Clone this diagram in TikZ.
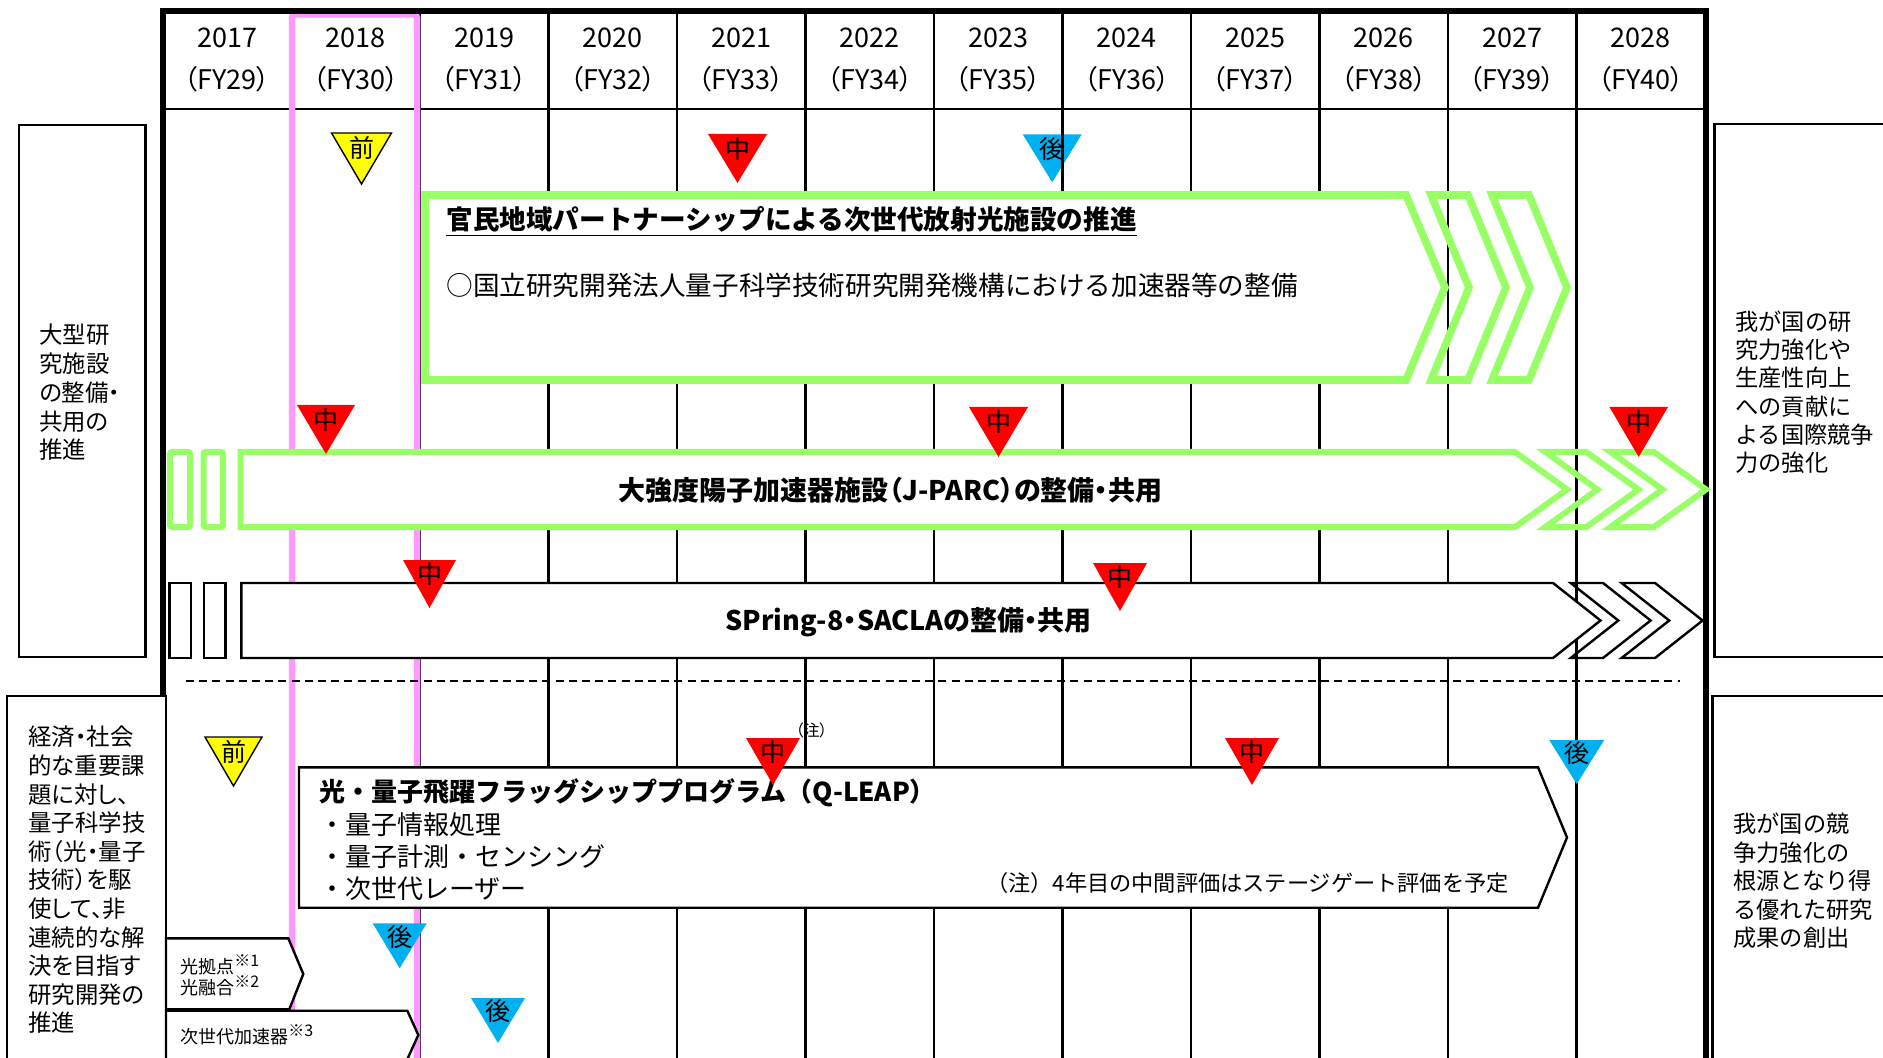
\documentclass[tikz,border=0pt]{standalone}
\usepackage{fontspec}
\setmainfont{Noto Sans CJK JP}
\newfontfamily\pj{Noto Sans CJK JP}[RawFeature=+palt]
\definecolor{mkred}{HTML}{FF0000}
\definecolor{mkblue}{HTML}{00B0F0}
\definecolor{mkyel}{HTML}{FFFF00}
\definecolor{lgreen}{HTML}{99FF66}
\definecolor{lpink}{HTML}{FF99FF}
\newcommand\fsz[2]{\fontsize{#1pt}{#2pt}\selectfont}
\newcommand\supx[1]{\raisebox{0.4em}{\fsz{8}{8}#1}}
\newcommand\mkr[7]{%
  \path[#6] (#2-#4/2,#3) -- (#2+#4/2,#3) -- (#2,#3+#5) -- cycle;
  \node[mtxt] (#1) at (#2,#3+0.3*#5) {#7};}
\begin{document}
\begin{tikzpicture}[x=0.5pt,y=-0.5pt,
  gridline/.style={line width=1.1pt,black},
  framel/.style={line width=2.75pt,black},
  pinkl/.style={line width=3.25pt,lpink,rounded corners=1.5pt},
  boxl/.style={line width=1.2pt,black},
  greenA/.style={line width=3.8pt,lgreen},
  greenB/.style={line width=3pt,lgreen},
  blkbox/.style={line width=1.2pt,black},
  dashl/.style={line width=1pt,black,dash pattern=on 4pt off 2.6pt},
  hdr/.style={inner sep=0pt,font=\fsz{13.5}{16}},
  sidetxt/.style={inner sep=0pt,anchor=west,align=left},
  txt/.style={inner sep=0pt,anchor=west},
  mtxt/.style={inner sep=0pt,font=\fsz{12.5}{13}},
  mred/.style={fill=mkred},
  mblue/.style={fill=mkblue},
  myel/.style={fill=mkyel,draw=black,line width=0.7pt},
]
\useasboundingbox (0,0) rectangle (1883,1058);
\fill[white] (0,0) rectangle (1883,1058);

% grid
\foreach \i in {1,...,11} \draw[gridline] (163+128.5*\i,11) -- (163+128.5*\i,1070);
\draw[gridline,line width=1.2pt] (163,109) -- (1706,109);

% header
\foreach \yr [count=\k from 0] in {2017,...,2028} {
  \pgfmathtruncatemacro{\fy}{\yr-1988}
  \node[hdr] (yr\yr) at (227.25+128.5*\k,38) {\yr};
  \node[hdr] (fy\yr) at (227.25+128.5*\k,79) {\pj（FY\fy）};
}

% pink highlight of 2018
\draw[pinkl] (292,14.5) rectangle (417,1075);

% frame
\draw[framel] (163,696) -- (163,11) -- (1706,11) -- (1706,1075);

% side boxes
\draw[boxl,fill=white] (19,125) rectangle (145.5,657);
\node[sidetxt,font=\pj\fsz{11.7}{14.4}] (lt1) at (39,392.5) {大型研\\究施設\\の整備・\\共用の\\推進};
\draw[boxl,fill=white] (7,696) rectangle (166,1075);
\node[sidetxt,font=\pj\fsz{11.7}{14.3}] (lt2) at (28,880) {経済・社会\\的な重要課\\題に対し、\\量子科学技\\術（光・量子\\技術）を駆\\使して、非\\連続的な解\\決を目指す\\研究開発の\\推進};
\draw[boxl,fill=white] (1714.5,124) rectangle (1895,657);
\node[sidetxt,font=\fsz{11.6}{14.15}] (rt1) at (1735,392.3) {我が国の研\\究力強化や\\生産性向上\\への貢献に\\よる国際競争\\力の強化};
\draw[boxl,fill=white] (1712.5,696) rectangle (1895,1075);
\node[sidetxt,font=\fsz{11.6}{14.25}] (rt2) at (1733,881) {我が国の競\\争力強化の\\根源となり得\\る優れた研究\\成果の創出};

% box A : next-generation synchrotron
\draw[greenA,fill=white] (425,195) -- (1406,195) -- (1445,287.5) -- (1406,380) -- (425,380) -- cycle;
\draw[greenA] (1431,195) -- (1468,195) -- (1506,287.5) -- (1468,380) -- (1431,380) -- (1469,287.5) -- cycle;
\draw[greenA] (1492,195) -- (1529,195) -- (1567,287.5) -- (1529,380) -- (1492,380) -- (1530,287.5) -- cycle;
\node[txt,font=\bfseries\fsz{13.3}{16}] (ta1) at (446,221.7) {\underline{官民地域パートナーシップによる次世代放射光施設の推進}};
\node[txt,font=\fsz{13.3}{16}] (ta2) at (446,285) {○国立研究開発法人量子科学技術研究開発機構における加速器等の整備};

% J-PARC row
\draw[greenB,fill=white,rounded corners=1pt] (170,452) rectangle (190,527);
\draw[greenB,fill=white,rounded corners=1pt] (203.5,452) rectangle (223,527);
\draw[greenB,fill=white] (240.5,452) -- (1515,452) -- (1567,489.5) -- (1515,527) -- (240.5,527) -- cycle;
\draw[greenB] (1545.4,452) -- (1586.3,452) -- (1638.3,489.5) -- (1586.3,527) -- (1545.4,527) -- (1597.4,489.5) -- cycle;
\draw[greenB] (1610.5,452) -- (1654,452) -- (1706,489.5) -- (1654,527) -- (1610.5,527) -- (1662.5,489.5) -- cycle;
\node[inner sep=0pt,font=\pj\bfseries\fsz{13.5}{16}] (tb) at (890.5,490) {大強度陽子加速器施設（J-PARC）の整備・共用};

% SPring-8 row
\draw[blkbox,fill=white] (169.5,583) rectangle (191,658);
\draw[blkbox,fill=white] (204,583) rectangle (225.3,658);
\draw[blkbox,fill=white] (241.3,583) -- (1553,583) -- (1600.5,620.5) -- (1553,658) -- (241.3,658) -- cycle;
\draw[blkbox] (1570.7,583) -- (1603,583) -- (1650.6,620.5) -- (1603,658) -- (1570.7,658) -- (1618.3,620.5) -- cycle;
\draw[blkbox] (1621.6,583) -- (1655,583) -- (1702.6,620.5) -- (1655,658) -- (1621.6,658) -- (1669.2,620.5) -- cycle;
\node[inner sep=0pt,font=\pj\bfseries\fsz{13.5}{16}] (tc) at (908.5,621.7) {SPring-8・SACLAの整備・共用};

% separator
\draw[dashl] (186,680.5) -- (1680,680.5);

% Q-LEAP
\draw[blkbox,fill=white] (299,767.3) -- (1538,767.3) -- (1567,837.5) -- (1538,907.7) -- (299,907.7) -- cycle;
\node[txt,font=\bfseries\fsz{13}{16}] (td0) at (319,793.3) {光・量子飛躍フラッグシッププログラム（Q-LEAP）};
\node[txt,font=\fsz{13}{16}] (td1) at (319,825) {・量子情報処理};
\node[txt,font=\fsz{13}{16}] (td2) at (319,856.7) {・量子計測・センシング};
\node[txt,font=\fsz{13}{16}] (td3) at (319,889) {・次世代レーザー};
\node[inner sep=0pt,anchor=east,font=\fsz{11.1}{14}] (tnote) at (1509,883.3) {（注）4年目の中間評価はステージゲート評価を予定};
\node[inner sep=0pt,font=\pj\fsz{8}{9}] (tchu) at (811.5,730) {（注）};

% small bottom-left arrows
\draw[blkbox,fill=white] (166,938.3) -- (288.3,938.3) -- (303.3,974) -- (289.3,1009.3) -- (166,1009.3) -- cycle;
\node[sidetxt,font=\fsz{9}{10.5}] (te1) at (180,975.5) {光拠点\supx{※1}\\光融合\supx{※2}};
\draw[blkbox,fill=white] (166,1010.7) -- (407.3,1010.7) -- (418.3,1035) -- (407.3,1059.3) -- (166,1059.3) -- cycle;
\node[sidetxt,font=\fsz{9}{10.5}] (te2) at (180,1035) {次世代加速器\supx{※3}};

% evaluation markers
\mkr{m3}{1052.2}{134.3}{59}{48}{mblue}{後}
\draw[gridline] (1062.5,110) -- (1062.5,191);
\mkr{m1}{361.5}{133}{60}{51}{myel}{前}
\mkr{m2}{737.5}{134}{59}{49}{mred}{中}
\mkr{m4}{326}{405}{58}{49}{mred}{中}
\mkr{m5}{998.5}{407}{59}{50}{mred}{中}
\mkr{m6}{1638.7}{407}{58.5}{50}{mred}{中}
\mkr{m7}{429.5}{560}{53}{48}{mred}{中}
\mkr{m8}{1120}{563}{54}{48}{mred}{中}
\mkr{m9}{233.5}{737}{57}{49}{myel}{前}
\mkr{m10}{773}{738}{54}{47}{mred}{中}
\mkr{m11}{1252}{738}{54}{47}{mred}{中}
\mkr{m12}{1576.7}{740}{55}{44}{mblue}{後}
\mkr{m13}{399.7}{923.3}{54}{45}{mblue}{後}
\mkr{m14}{498}{998}{54}{45}{mblue}{後}
\end{tikzpicture}
\end{document}
